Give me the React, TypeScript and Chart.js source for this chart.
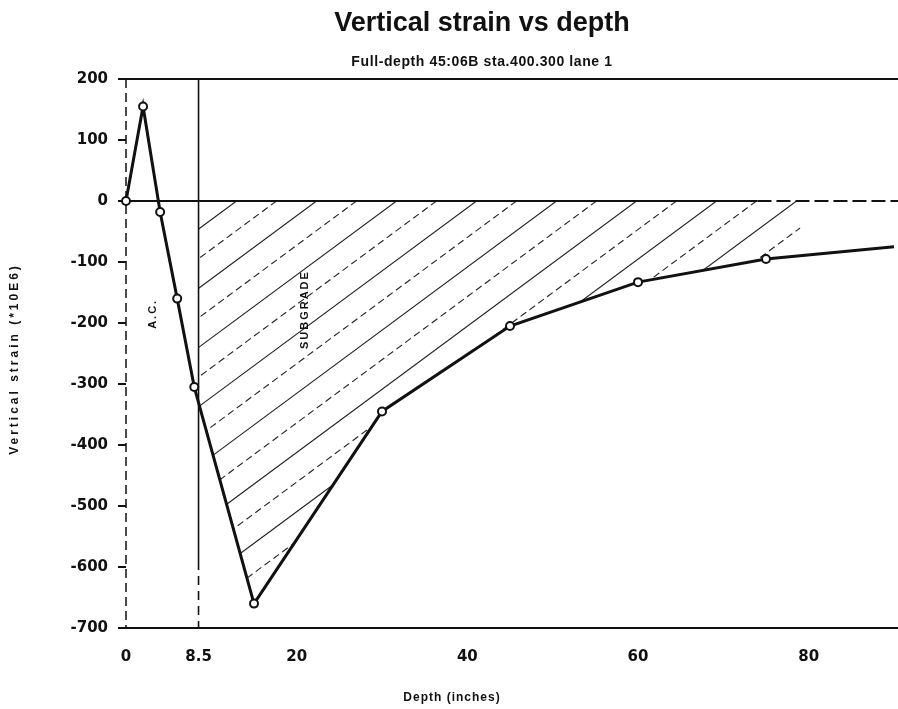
import React, { useEffect, useRef } from "react";
import { Chart, registerables } from "chart.js";

Chart.register(...registerables);

// ---- data ----
const depthInches = [0, 2, 4, 6, 8, 15, 30, 45, 60, 75, 90];
const verticalStrain = [0, 155, -18, -160, -305, -660, -345, -205, -133, -95, -75];
const xTickValues = [0, 8.5, 20, 40, 60, 80];
const yTickValues = [-700, -600, -500, -400, -300, -200, -100, 0, 100, 200];
const layerBoundary = 8.5;
const hatchEndDepth = 79;

const titleText = "Vertical strain vs depth";
const subtitleText = "Full-depth 45:06B sta.400.300 lane 1";
const xTitleText = "Depth (inches)";
const yTitleText = "Vertical strain (*10E6)";
const acLabel = "A.C.";
const subgradeLabel = "SUBGRADE";

const CANVAS_W = 964;
const CANVAS_H = 709;
const INK = "#111";

function strainAt(x: number): number {
  for (let i = 0; i < depthInches.length - 1; i++) {
    const x0 = depthInches[i];
    const x1 = depthInches[i + 1];
    if (x >= x0 && x <= x1) {
      const t = (x - x0) / (x1 - x0);
      return verticalStrain[i] + t * (verticalStrain[i + 1] - verticalStrain[i]);
    }
  }
  return verticalStrain[verticalStrain.length - 1];
}

const annotationPlugin = {
  id: "strainAnnotations",
  beforeDatasetsDraw(chart: any) {
    const ctx = chart.ctx as CanvasRenderingContext2D;
    const xs = chart.scales.x;
    const ys = chart.scales.y;
    const area = chart.chartArea;
    const px = (v: number) => xs.getPixelForValue(v);
    const py = (v: number) => ys.getPixelForValue(v);
    const y0 = py(0);

    // hatched subgrade region
    ctx.save();
    ctx.beginPath();
    ctx.moveTo(px(layerBoundary), y0);
    ctx.lineTo(px(hatchEndDepth), y0);
    ctx.lineTo(px(hatchEndDepth), py(strainAt(hatchEndDepth)));
    for (let i = depthInches.length - 1; i >= 0; i--) {
      const d = depthInches[i];
      if (d < hatchEndDepth && d > layerBoundary) ctx.lineTo(px(d), py(verticalStrain[i]));
    }
    ctx.lineTo(px(layerBoundary), py(strainAt(layerBoundary)));
    ctx.closePath();
    ctx.clip();
    ctx.strokeStyle = "#222";
    ctx.lineWidth = 1.1;
    const slope = 0.74;
    const startX = px(layerBoundary) + 38;
    for (let k = -20; k < 20; k++) {
      const xt = startX + 40 * k;
      ctx.setLineDash(k % 2 === 0 ? [] : [7, 4]);
      ctx.beginPath();
      ctx.moveTo(xt, y0);
      ctx.lineTo(xt - 800, y0 + slope * 800);
      ctx.stroke();
    }
    ctx.restore();

    ctx.save();
    ctx.strokeStyle = INK;
    // dashed left axis (depth 0)
    ctx.lineWidth = 1.5;
    ctx.setLineDash([9, 5]);
    ctx.beginPath();
    ctx.moveTo(area.left, area.top);
    ctx.lineTo(area.left, area.bottom);
    ctx.stroke();
    ctx.setLineDash([]);
    // top frame line
    ctx.lineWidth = 2;
    ctx.beginPath();
    ctx.moveTo(area.left - 8, area.top);
    ctx.lineTo(area.right, area.top);
    ctx.stroke();
    // zero line
    ctx.beginPath();
    ctx.moveTo(area.left - 8, y0);
    ctx.lineTo(px(74), y0);
    ctx.stroke();
    ctx.setLineDash([14, 5]);
    ctx.beginPath();
    ctx.moveTo(px(74), y0);
    ctx.lineTo(area.right, y0);
    ctx.stroke();
    // layer boundary at 8.5 in
    ctx.setLineDash([]);
    ctx.lineWidth = 1.6;
    const xb = px(layerBoundary);
    ctx.beginPath();
    ctx.moveTo(xb, area.top);
    ctx.lineTo(xb, py(-590));
    ctx.stroke();
    ctx.setLineDash([9, 6]);
    ctx.beginPath();
    ctx.moveTo(xb, py(-590));
    ctx.lineTo(xb, area.bottom);
    ctx.stroke();
    ctx.restore();
  },
  afterDraw(chart: any) {
    const ctx = chart.ctx as CanvasRenderingContext2D;
    const xs = chart.scales.x;
    const ys = chart.scales.y;
    const px = (v: number) => xs.getPixelForValue(v);
    const py = (v: number) => ys.getPixelForValue(v);
    ctx.save();
    ctx.fillStyle = INK;
    ctx.textAlign = "center";

    ctx.font = "bold 27px 'Liberation Sans', Arial, sans-serif";
    ctx.textBaseline = "alphabetic";
    ctx.fillText(titleText, 482, 31);

    ctx.font = "bold 14px 'Liberation Sans', Arial, sans-serif";
    ctx.textBaseline = "middle";
    (ctx as any).letterSpacing = "0.6px";
    ctx.fillText(subtitleText, 482, 62);

    ctx.font = "bold 12px 'Liberation Sans', Arial, sans-serif";
    (ctx as any).letterSpacing = "1px";
    ctx.fillText(xTitleText, 452, 698);

    // y axis title
    ctx.save();
    ctx.translate(15, 359);
    ctx.rotate(-Math.PI / 2);
    ctx.font = "bold 12px 'Liberation Sans', Arial, sans-serif";
    (ctx as any).letterSpacing = "3px";
    ctx.fillText(yTitleText, 0, 0);
    ctx.restore();

    // layer labels
    ctx.save();
    ctx.translate(px(3.2), py(-185));
    ctx.rotate(-Math.PI / 2);
    ctx.font = "bold 11px 'Liberation Sans', Arial, sans-serif";
    (ctx as any).letterSpacing = "2px";
    ctx.fillText(acLabel, 0, 0);
    ctx.restore();

    ctx.save();
    ctx.translate(px(21), py(-178));
    ctx.rotate(-Math.PI / 2);
    ctx.font = "bold 11px 'Liberation Sans', Arial, sans-serif";
    (ctx as any).letterSpacing = "2px";
    ctx.fillText(subgradeLabel, 0, 0);
    ctx.restore();

    ctx.restore();
  },
};

export default function App() {
  const canvasRef = useRef<HTMLCanvasElement | null>(null);

  useEffect(() => {
    const canvas = canvasRef.current;
    if (!canvas) return;
    const points = depthInches.map((d, i) => ({ x: d, y: verticalStrain[i] }));
    const radii = depthInches.map((_, i) => (i === depthInches.length - 1 ? 0 : 4));
    const chart = new Chart(canvas, {
      type: "line",
      data: {
        datasets: [
          {
            label: "Vertical strain",
            data: points,
            borderColor: INK,
            borderWidth: 3,
            pointRadius: radii,
            pointBorderWidth: 2,
            pointBackgroundColor: "#fff",
            pointBorderColor: INK,
            pointStyle: "circle",
            tension: 0,
            clip: false as any,
          },
        ],
      },
      options: {
        responsive: false,
        animation: false,
        devicePixelRatio: 1,
        layout: { padding: { top: 79, right: 0, left: 0, bottom: 0 } },
        plugins: {
          legend: { display: false },
          tooltip: { enabled: false },
          title: { display: false },
        },
        scales: {
          x: {
            type: "linear",
            min: 0,
            max: 97.5,
            afterBuildTicks: (scale: any) => {
              scale.ticks = xTickValues.map((v) => ({ value: v }));
            },
            afterFit: (scale: any) => {
              scale.height = 81;
            },
            grid: { display: false, drawTicks: false },
            border: { display: true, color: INK, width: 2 },
            ticks: {
              color: INK,
              padding: 20,
              maxRotation: 0,
              autoSkip: false,
              font: { family: "'DejaVu Sans', sans-serif", size: 15, weight: "bold" },
              callback: (v: any) => String(v),
            },
          },
          y: {
            type: "linear",
            min: -700,
            max: 200,
            afterBuildTicks: (scale: any) => {
              scale.ticks = yTickValues.map((v) => ({ value: v }));
            },
            afterFit: (scale: any) => {
              scale.width = 126;
            },
            grid: {
              drawOnChartArea: false,
              drawTicks: true,
              tickLength: 8,
              color: INK,
              lineWidth: 2,
            },
            border: { display: false },
            ticks: {
              color: INK,
              padding: 10,
              autoSkip: false,
              font: { family: "'DejaVu Sans', sans-serif", size: 15, weight: "bold" },
              callback: (v: any) => String(v),
            },
          },
        },
      },
      plugins: [annotationPlugin],
    });
    return () => chart.destroy();
  }, []);

  return (
    <div
      style={{
        position: "absolute",
        left: 0,
        top: 0,
        width: 898,
        height: 709,
        overflow: "hidden",
        background: "#fff",
      }}
    >
      <canvas
        ref={canvasRef}
        width={CANVAS_W}
        height={CANVAS_H}
        style={{ width: CANVAS_W, height: CANVAS_H, display: "block" }}
      />
    </div>
  );
}
